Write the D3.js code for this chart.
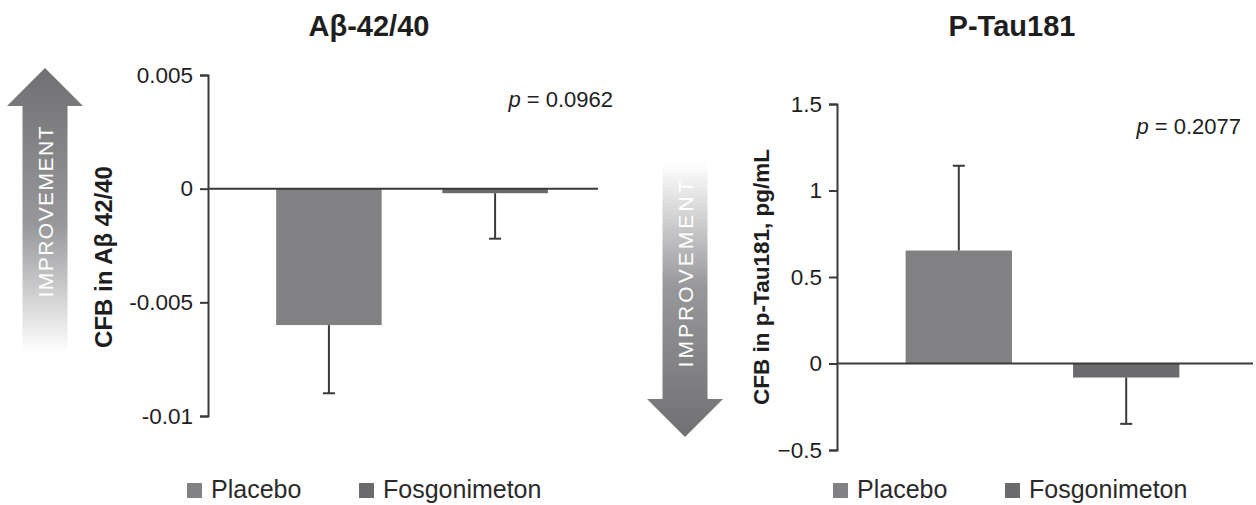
<!DOCTYPE html>
<html><head><meta charset="utf-8">
<script src="https://cdn.jsdelivr.net/npm/d3@7"></script>
<style>
body{margin:0;background:#fff;}
svg{display:block;font-family:"Liberation Sans",Arial,sans-serif;}
</style></head>
<body><svg id="c" width="1256" height="505"></svg>
<script>
// ---- data ----
const categories = ["Placebo", "Fosgonimeton"];
const abMean = [-0.0060, -0.0002];
const abSE = [0.0030, 0.0020];
const abTicks = [0.005, 0, -0.005, -0.01];
const abTickLabels = ["0.005", "0", "-0.005", "-0.01"];
const tauMean = [0.653, -0.081];
const tauSE = [0.49, 0.268];
const tauTicks = [1.5, 1, 0.5, 0, -0.5];
const tauTickLabels = ["1.5", "1", "0.5", "0", "\u22120.5"];
const titles = ["A\u03b2-42/40", "P-Tau181"];
const yLabels = ["CFB in A\u03b2 42/40", "CFB in p-Tau181, pg/mL"];
const pValues = ["0.0962", "0.2077"];
const barColors = ["#818184", "#6b6b6e"];

const svg = d3.select("#c");
const axisColor = "#3a3a3a";

const defs = svg.append("defs");
const gUp = defs.append("linearGradient").attr("id","gUp").attr("x1",0).attr("y1",0).attr("x2",0).attr("y2",1);
gUp.append("stop").attr("offset","0%").attr("stop-color","#707073");
gUp.append("stop").attr("offset","55%").attr("stop-color","#98989b");
gUp.append("stop").attr("offset","100%").attr("stop-color","#ffffff");
const gDown = defs.append("linearGradient").attr("id","gDown").attr("x1",0).attr("y1",0).attr("x2",0).attr("y2",1);
gDown.append("stop").attr("offset","0%").attr("stop-color","#ffffff");
gDown.append("stop").attr("offset","45%").attr("stop-color","#98989b");
gDown.append("stop").attr("offset","100%").attr("stop-color","#707073");

function panel(cfg){
  const y = d3.scaleLinear().domain(cfg.domain).range([cfg.yBottom, cfg.yTop]);
  const x = d3.scaleBand().domain(categories).range([cfg.axisX, cfg.bandEnd])
    .paddingInner(0.365).paddingOuter(0.41);
  const g = svg.append("g");
  // title
  g.append("text").attr("x", cfg.titleX).attr("y", 36).attr("text-anchor","middle")
    .attr("font-size", 29).attr("font-weight","bold").attr("fill","#1e1e1e").text(cfg.title);
  // bars
  categories.forEach((c,i)=>{
    const v = cfg.mean[i];
    g.append("rect").attr("x", x(c)).attr("width", x.bandwidth())
      .attr("y", Math.min(y(v), y(0))).attr("height", Math.abs(y(v)-y(0)))
      .attr("fill", barColors[i]);
    const end = v + Math.sign(v)*cfg.se[i];
    const cx = x(c) + x.bandwidth()/2;
    g.append("line").attr("x1",cx).attr("x2",cx).attr("y1",y(v)).attr("y2",y(end))
      .attr("stroke",axisColor).attr("stroke-width",2);
    g.append("line").attr("x1",cx-6).attr("x2",cx+6).attr("y1",y(end)).attr("y2",y(end))
      .attr("stroke",axisColor).attr("stroke-width",2);
  });
  // zero line
  g.append("line").attr("x1",cfg.axisX).attr("x2",cfg.zeroEnd).attr("y1",y(0)).attr("y2",y(0))
    .attr("stroke",axisColor).attr("stroke-width",2);
  // axis
  const ax = g.append("g").attr("transform",`translate(${cfg.axisX},0)`)
    .call(d3.axisLeft(y).tickValues(cfg.ticks).tickSize(8).tickPadding(7)
      .tickFormat((d,i)=>cfg.tickLabels[i]));
  ax.select(".domain").attr("stroke",axisColor).attr("stroke-width",2);
  ax.selectAll(".tick line").attr("stroke",axisColor).attr("stroke-width",2);
  ax.selectAll(".tick text").attr("font-size",22.5).attr("fill","#1e1e1e")
    .attr("font-family","'Liberation Sans',Arial,sans-serif");
  // y label
  g.append("text").attr("transform",`translate(${cfg.labelX},${cfg.labelY}) rotate(-90)`)
    .attr("text-anchor","middle").attr("font-size",cfg.labelSize).attr("font-weight","bold")
    .attr("fill","#1e1e1e").text(cfg.yLabel);
  // p value
  const pt = g.append("text").attr("x", cfg.pX).attr("y", cfg.pY).attr("text-anchor","end")
    .attr("font-size",22).attr("fill","#1e1e1e");
  pt.append("tspan").attr("font-style","italic").text("p");
  pt.append("tspan").text(" = " + cfg.p);
  // legend
  categories.forEach((c,i)=>{
    g.append("rect").attr("x", cfg.legX[i]).attr("y", 483).attr("width",15).attr("height",15)
      .attr("fill", barColors[i]);
    g.append("text").attr("x", cfg.legX[i]+24).attr("y", 498).attr("font-size",25)
      .attr("fill","#2a2a2a").text(c);
  });
}

panel({domain:[-0.01,0.005], yTop:75, yBottom:416, axisX:208, bandEnd:616, zeroEnd:598,
  mean:abMean, se:abSE, ticks:abTicks, tickLabels:abTickLabels, title:titles[0], titleX:369,
  yLabel:yLabels[0], labelX:112, labelY:257, labelSize:24, p:pValues[0], pX:613, pY:107,
  legX:[187,359]});
panel({domain:[-0.5,1.5], yTop:104, yBottom:450, axisX:837, bandEnd:1248, zeroEnd:1253,
  mean:tauMean, se:tauSE, ticks:tauTicks, tickLabels:tauTickLabels, title:titles[1], titleX:1012,
  yLabel:yLabels[1], labelX:769, labelY:277, labelSize:22.5, p:pValues[1], pX:1241, pY:134,
  legX:[833,1005]});

// improvement arrows
function arrow(cx, yTop, yBottom, up, grad, textY, textLen){
  const hw = 38, sw = 22.5, hh = 38;
  let pts;
  if(up){
    pts = [[cx,yTop],[cx+hw,yTop+hh],[cx+sw,yTop+hh],[cx+sw,yBottom],[cx-sw,yBottom],[cx-sw,yTop+hh],[cx-hw,yTop+hh]];
  } else {
    pts = [[cx-sw,yTop],[cx+sw,yTop],[cx+sw,yBottom-hh],[cx+hw,yBottom-hh],[cx,yBottom],[cx-hw,yBottom-hh],[cx-sw,yBottom-hh]];
  }
  svg.append("path").attr("d", d3.line()(pts)+"Z").attr("fill",`url(#${grad})`);
  svg.append("text").attr("transform",`translate(${cx+8},${textY}) rotate(-90)`)
    .attr("text-anchor","middle").attr("font-size",21).attr("fill","#ffffff")
    .attr("font-family","'Liberation Sans',Arial,sans-serif").attr("font-weight","normal")
    .attr("textLength",textLen).attr("lengthAdjust","spacing").text("IMPROVEMENT");
}
arrow(45, 68, 353, true, "gUp", 212, 171);
arrow(685, 163, 437, false, "gDown", 274, 187);
</script></body></html>
